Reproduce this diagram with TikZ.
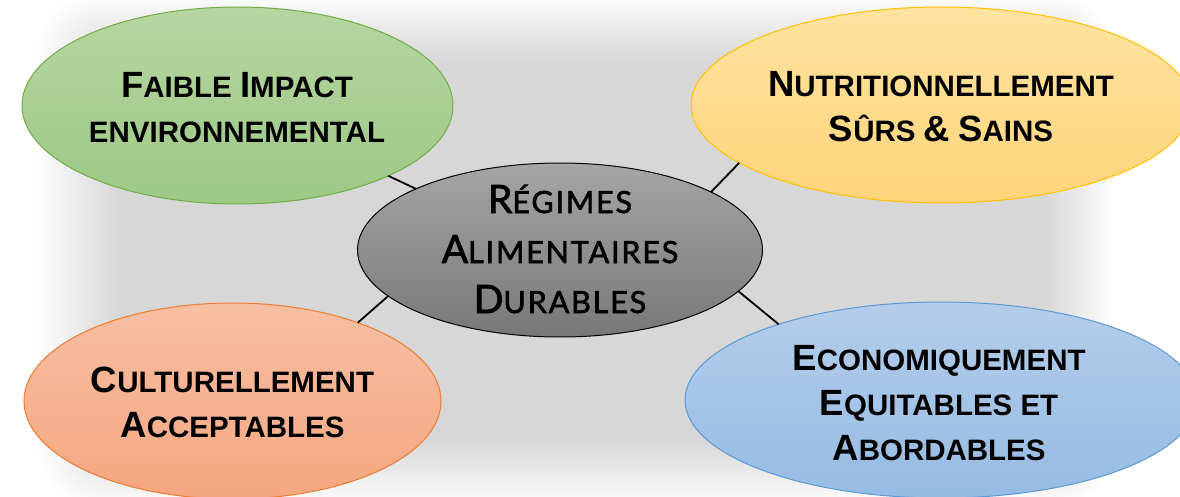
\documentclass[tikz,border=0pt]{standalone}
\usepackage{fontspec}
\setmainfont{Liberation Sans}
\newfontfamily\ctrfont[FakeBold=2,LetterSpace=6]{Lato}
\usetikzlibrary{shapes.geometric}
\definecolor{bgc}{RGB}{215,215,215}
\definecolor{grnB}{RGB}{112,173,71}
\definecolor{grnT}{RGB}{181,214,161}
\definecolor{grnL}{RGB}{157,200,133}
\definecolor{yelB}{RGB}{255,192,0}
\definecolor{yelT}{RGB}{255,227,160}
\definecolor{yelL}{RGB}{255,212,122}
\definecolor{orgB}{RGB}{237,125,49}
\definecolor{orgT}{RGB}{247,191,163}
\definecolor{orgL}{RGB}{245,166,128}
\definecolor{bluB}{RGB}{91,155,213}
\definecolor{bluT}{RGB}{180,205,234}
\definecolor{bluL}{RGB}{150,187,227}
\definecolor{gryT}{RGB}{165,165,165}
\definecolor{gryL}{RGB}{120,120,120}
\newcommand\BigL[1]{{\fontsize{36.5}{45}\selectfont #1}}
\newcommand\BigC[1]{{\fontsize{39}{50}\selectfont #1}}
\tikzset{
  blob/.style={ellipse, inner sep=0pt, outer sep=0pt, line width=1pt},
  txt/.style={align=center, anchor=base, inner sep=0pt,
    font=\fontsize{29.5}{45}\selectfont\bfseries},
  ctxt/.style={align=center, anchor=base, inner sep=0pt,
    font=\ctrfont\fontsize{30.5}{50}\selectfont},
  conn/.style={line width=1.8pt, black}
}
\begin{document}
\begin{tikzpicture}[x=1pt,y=-1pt]
\useasboundingbox (0,0) rectangle (1180,497);
\clip (0,0) rectangle (1180,497);
% soft background
\fill[white] (0,0) rectangle (1180,497);
\foreach \i in {0,...,40}{
  \pgfmathsetmacro\t{\i/40}
  \pgfmathsetmacro\pc{100*\t}
  \pgfmathsetmacro\xa{35+\t*(120-35)}
  \pgfmathsetmacro\xb{1115-\t*(1115-1045)}
  \pgfmathsetmacro\ya{-8+\t*(62+8)}
  \pgfmathsetmacro\yb{508-\t*(508-440)}
  \pgfmathsetmacro\rc{2+(1-\t)*60}
  \fill[bgc!\pc!white, rounded corners=\rc pt] (\xa,\ya) rectangle (\xb,\yb);
}
% ellipses
\node[blob, draw=grnB, top color=grnT, bottom color=grnL,
  minimum width=431pt, minimum height=197pt] (g) at (237.5,105.5) {};
\node[blob, draw=yelB, top color=yelT, bottom color=yelL,
  minimum width=500pt, minimum height=196pt] (y) at (941,105) {};
\node[blob, draw=orgB, top color=orgT, bottom color=orgL,
  minimum width=417pt, minimum height=196pt] (o) at (232.5,401) {};
\node[blob, draw=bluB, top color=bluT, bottom color=bluL,
  minimum width=512pt, minimum height=196pt] (b) at (941,400) {};
\node[blob, draw=black, top color=gryT, bottom color=gryL,
  minimum width=405pt, minimum height=174pt] (c) at (560,250) {};
% connectors
\draw[conn] (g.335) -- (c.157.5);
\draw[conn] (y.196.5) -- (c.21.5);
\draw[conn] (o.32.2) -- (c.195.3);
\draw[conn] (b.155) -- (c.347);
% texts
\node[txt] (gt) at (237,143) {\BigL{F}AIBLE \BigL{I}MPACT\\ENVIRONNEMENTAL};
\node[txt] (yt) at (941,142) {\BigL{N}UTRITIONNELLEMENT\\\BigL{S}ÛRS \BigL{\&} \BigL{S}AINS};
\node[txt] (ot) at (232.5,437) {\BigL{C}ULTURELLEMENT\\\BigL{A}CCEPTABLES};
\node[txt] (bt) at (939,460) {\BigL{E}CONOMIQUEMENT\\\BigL{E}QUITABLES ET\\\BigL{A}BORDABLES};
\node[ctxt] (ct) at (560,313) {\BigC{R}ÉGIMES\\\BigC{A}LIMENTAIRES\\\BigC{D}URABLES};
\end{tikzpicture}
\end{document}
